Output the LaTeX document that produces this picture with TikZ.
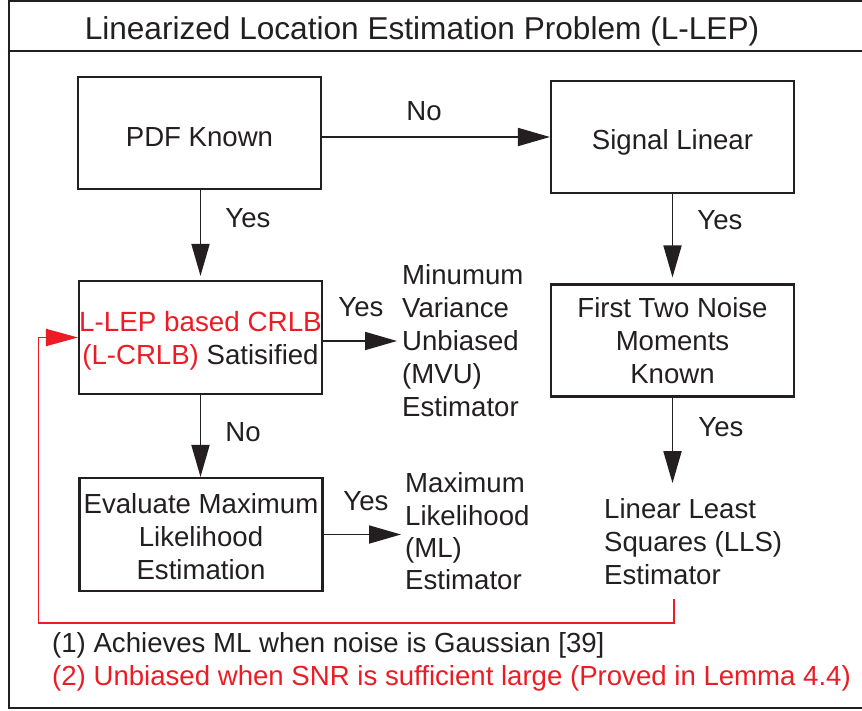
\documentclass[tikz,border=0pt]{standalone}
\usepackage{fontspec}
\setmainfont{Liberation Sans}
\usetikzlibrary{arrows.meta}
\definecolor{ink}{RGB}{35,31,32}
\definecolor{alert}{RGB}{237,28,36}

\begin{document}
\begin{tikzpicture}[x=1pt,y=-1pt,
  every node/.style={font=\fontsize{27.6}{33}\selectfont, text=ink, inner sep=0pt},
  block/.style={draw=ink, line width=2.1pt, minimum width=243pt, minimum height=112pt, align=center},
  oneline/.style={text height=28pt, text depth=0pt},
  plain/.style={align=left, anchor=west},
  flow/.style={draw=ink, line width=1.8pt, -{Triangle[length=32pt,width=18pt]}},
  back/.style={draw=alert, line width=1.9pt, -{Triangle[length=32pt,width=17pt]}}]

\useasboundingbox (0,0) rectangle (862,711);

% outer frame and title bar
\draw[ink, line width=2.3pt] (9,1) rectangle (875,708);
\draw[ink, line width=2.3pt] (9,51) -- (875,51);
\node[font=\fontsize{31.6}{36}\selectfont] (title) at (422,31) {Linearized Location Estimation Problem (L-LEP)};

% decision blocks
\node[block, oneline] (pdf) at (199.5,133) {PDF Known};
\node[block, oneline, text height=25pt] (sig) at (672.5,137) {Signal Linear};
\node[block, minimum height=113pt] (crlb) at (200.5,337.5)
  {\fontsize{27.8}{33}\selectfont\rule{0pt}{27pt}\textcolor{alert}{L-LEP based CRLB}\\\textcolor{alert}{(L-CRLB)} Satisified};
\node[block] (ftn) at (672.5,340.5) {First Two Noise\\Moments\\Known};
\node[block, minimum height=113pt] (eml) at (201,534.5) {\rule{0pt}{25pt}Evaluate Maximum\\Likelihood\\Estimation};

% resulting estimators
\node[plain] (mvu) at (402,341) {Minumum\\Variance\\Unbiased\\(MVU)\\Estimator};
\node[plain, font=\fontsize{27.6}{32.3}\selectfont] (ml) at (405,531.5) {Maximum\\Likelihood\\(ML)\\Estimator};
\node[plain] (lls) at (604,541.5) {Linear Least\\Squares (LLS)\\Estimator};

% connectors
\draw[flow] (pdf.east |- sig.west) -- (sig.west);
\draw[flow, shorten >=4pt] (crlb.north |- pdf.south) -- (crlb.north);
\draw[flow, shorten >=6pt] (sig.south) -- (sig.south |- ftn.north);
\draw[flow, shorten >=5pt] (crlb.east |- mvu.west) -- (mvu.west);
\draw[flow] (crlb.south) -- (crlb.south |- eml.north);
\draw[flow, shorten >=4pt] (eml.east) -- (eml.east -| ml.west);
\draw[flow, shorten >=15pt] (ftn.south) -- (ftn.south |- lls.north);

% feedback loop
\coordinate (fb) at (674,599);
\draw[back] (fb) |- (38.5,623) |- (crlb.west);

% branch labels
\node (l1) at (424,111) {No};
\node (l2) at (248,218) {Yes};
\node (l3) at (720,220) {Yes};
\node (l4) at (361,307) {Yes};
\node (l5) at (243,432) {No};
\node (l6) at (366,501) {Yes};
\node (l7) at (721,427) {Yes};

% notes
\node[anchor=west] (n1) at (52,645) {(1) Achieves ML when noise is Gaussian [39]};
\node[anchor=west, text=alert] (n2) at (52,678) {(2) Unbiased when SNR is sufficient large (Proved in Lemma 4.4)};
\end{tikzpicture}
\end{document}
